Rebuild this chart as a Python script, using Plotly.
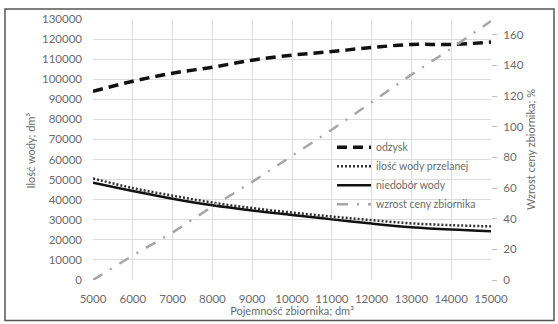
import plotly.graph_objects as go

pojemnosc = [5000, 6000, 7000, 8000, 9000, 10000, 11000, 12000, 13000, 14000, 15000]
odzysk = [94000, 99000, 103000, 106000, 109500, 112000, 113800, 115800, 117300, 117300, 118500]
przelanej = [50600, 45800, 42000, 38600, 35800, 33600, 31600, 29800, 28200, 27300, 26700]
niedobor = [48400, 44300, 40500, 37200, 34600, 32400, 30200, 28100, 26300, 25100, 24300]
wzrost = [0, 16, 31, 48, 64, 81, 98, 116, 134, 151, 169]
ilosc_ticks = list(range(0, 130001, 10000))
wzrost_ticks = [0, 20, 40, 60, 80, 100, 120, 140, 160]

FONT = "Lato"
TXT = "#6b6b6b"

fig = go.Figure()
fig.add_trace(go.Scatter(x=pojemnosc, y=odzysk, name="odzysk", mode="lines",
                         line=dict(color="#111111", width=3.5, dash="10px,6px", shape="spline")))
fig.add_trace(go.Scatter(x=pojemnosc, y=przelanej, name="ilość wody przelanej", mode="lines",
                         line=dict(color="#333333", width=2.5, dash="2px,2px", shape="spline")))
fig.add_trace(go.Scatter(x=pojemnosc, y=niedobor, name="niedobór wody", mode="lines",
                         line=dict(color="#111111", width=2.5, shape="spline")))
fig.add_trace(go.Scatter(x=pojemnosc, y=wzrost, name="wzrost ceny zbiornika", mode="lines",
                         yaxis="y2",
                         line=dict(color="#a6a6a6", width=2.5, dash="11px,9px,2px,9px")))

L, R, T, B = 93, 491, 17, 281
W, H = 558, 324
pw, ph = R - L, B - T

def px(x):
    return (x - L) / pw

def py(y):
    return (B - y) / ph

fig.update_layout(
    width=W, height=H,
    margin=dict(l=L, r=W - R, t=T, b=H - B, pad=0),
    paper_bgcolor="white", plot_bgcolor="white",
    font=dict(family=FONT, size=11, color=TXT),
    showlegend=True,
    legend=dict(x=px(332), y=py(132), xanchor="left", yanchor="top",
                bgcolor="rgba(0,0,0,0)", borderwidth=0,
                font=dict(family=FONT, size=10.5, color=TXT),
                itemwidth=34, tracegroupgap=0),
    xaxis=dict(range=[5000, 15000], tickvals=pojemnosc,
               ticktext=[str(v) for v in pojemnosc],
               showgrid=True, gridcolor="#dcdcdc", gridwidth=1,
               zeroline=False, showline=False, ticks="",
               ticklabelstandoff=10,
               tickfont=dict(family=FONT, size=11.5, color=TXT),
               title=dict(text="Pojemność zbiornika; dm³", standoff=0,
                          font=dict(family=FONT, size=11, color=TXT))),
    yaxis=dict(range=[0, 130000], tickvals=ilosc_ticks,
               ticktext=[str(v) for v in ilosc_ticks],
               showgrid=True, gridcolor="#dcdcdc", gridwidth=1,
               zeroline=False, showline=False, ticks="",
               ticklabelstandoff=10,
               tickfont=dict(family=FONT, size=11.5, color=TXT)),
    yaxis2=dict(range=[0, 170.3], tickvals=wzrost_ticks,
                ticktext=[str(v) for v in wzrost_ticks],
                overlaying="y", side="right", showgrid=False, zeroline=False,
                showline=False,
                ticks="outside", ticklen=5, tickcolor="#bfbfbf",
                ticklabelstandoff=4,
                tickfont=dict(family=FONT, size=11.5, color=TXT),
                title=dict(text="Wzrost ceny zbiornika; %", standoff=4,
                           font=dict(family=FONT, size=11, color=TXT))),
    annotations=[dict(text="Ilość wody; dm³", xref="paper", yref="paper",
                      x=px(30), y=py(150), xanchor="center", yanchor="middle",
                      textangle=-90, showarrow=False,
                      font=dict(family=FONT, size=11, color=TXT))],
    shapes=[dict(type="rect", xref="paper", yref="paper",
                 x0=px(5), x1=px(554), y0=py(322), y1=py(7),
                 line=dict(color="#555555", width=1.5), fillcolor="rgba(0,0,0,0)",
                 layer="above")],
)

fig.write_html("out.html", config={"displayModeBar": False},
               post_script="document.body.style.margin='0';document.body.style.overflow='hidden';")
